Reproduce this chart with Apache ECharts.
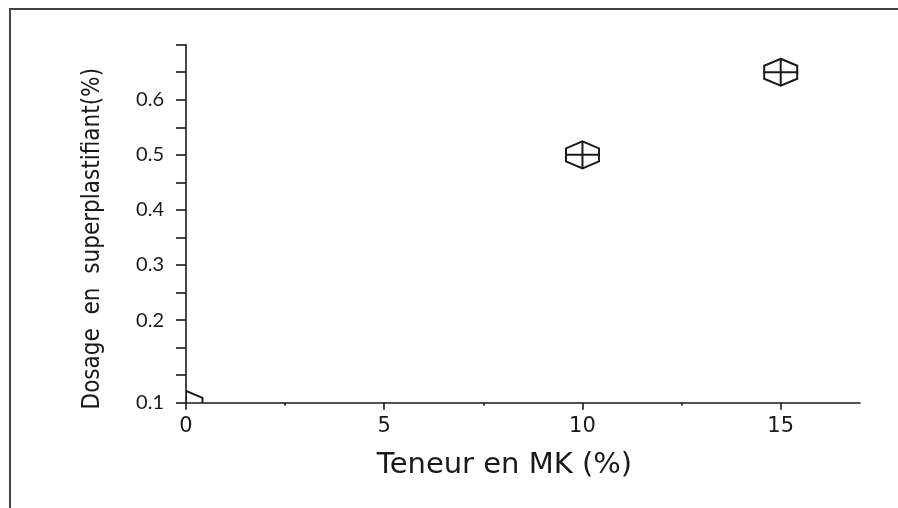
<!DOCTYPE html>
<html><head><meta charset="utf-8">
<script src="https://cdn.jsdelivr.net/npm/echarts@6/dist/echarts.min.js"></script>
<style>html,body{margin:0;padding:0;background:#fff}#c{width:898px;height:508px}</style>
</head><body><div id="c"></div>
<script>
// Data
const xValues = [0, 10, 15];
const yValues = [0.047, 0.5, 0.65];
const xLabelValues = [0, 5, 10, 15];
const xMinorTickValues = [2.5, 7.5, 12.5];
const yLabelValues = [0.05, 0.2, 0.3, 0.4, 0.5, 0.6];
const yLabelTexts = ['0.1', '0.2', '0.3', '0.4', '0.5', '0.6'];
const xTitle = 'Teneur en MK (%)';
const yTitle = 'Dosage  en  superplastifiant(%)';

const points = xValues.map((x, i) => [x, yValues[i]]);
const ink = '#1a1a1a';

function renderItem(params, api) {
  const p = api.coord([api.value(0), api.value(1)]);
  const hw = 16.5, hh = 13.5, s = 7, cw = 17.5;
  const pts = [
    [p[0], p[1] - hh], [p[0] + hw, p[1] - hh + s], [p[0] + hw, p[1] + hh - s],
    [p[0], p[1] + hh], [p[0] - hw, p[1] + hh - s], [p[0] - hw, p[1] - hh + s]
  ];
  const st = { stroke: ink, lineWidth: 2, fill: 'none' };
  return {
    type: 'group',
    children: [
      { type: 'polygon', shape: { points: pts }, style: st },
      { type: 'line', shape: { x1: p[0] - cw, y1: p[1], x2: p[0] + cw, y2: p[1] }, style: st },
      { type: 'line', shape: { x1: p[0], y1: p[1] - hh, x2: p[0], y2: p[1] + hh }, style: st }
    ]
  };
}

const chart = echarts.init(document.getElementById('c'), null, { renderer: 'canvas' });
chart.setOption({
  backgroundColor: '#fff',
  animation: false,
  grid: { left: 186, right: 38, top: 44.7, bottom: 105.3, containLabel: false },
  graphic: [{
    type: 'polyline',
    shape: { points: [[10, 508], [10, 9], [898, 9]] },
    style: { stroke: '#444', lineWidth: 2, fill: 'none' }
  }],
  xAxis: [{
    type: 'value', min: 0, max: 17, position: 'bottom',
    axisLine: { show: true, onZero: false, lineStyle: { color: ink, width: 1.6 } },
    axisTick: { show: true, customValues: xLabelValues, length: 7, lineStyle: { color: ink, width: 1.6 } },
    axisLabel: { customValues: xLabelValues, margin: 13, fontFamily: 'DejaVu Sans', fontSize: 21, color: ink },
    splitLine: { show: false },
    name: xTitle, nameLocation: 'middle', nameGap: 48,
    nameTextStyle: { fontFamily: 'DejaVu Sans', fontSize: 29, color: ink, padding: [0, 37, 0, 0] }
  }, {
    type: 'value', min: 0, max: 17, position: 'bottom',
    axisLine: { show: false, onZero: false },
    axisTick: { show: true, customValues: xMinorTickValues, length: 3, lineStyle: { color: ink, width: 1.6 } },
    axisLabel: { show: false },
    splitLine: { show: false }
  }],
  yAxis: {
    type: 'value', min: 0.05, max: 0.7, interval: 0.05,
    axisLine: { show: true, onZero: false, lineStyle: { color: ink, width: 1.6 } },
    axisTick: { show: true, length: 10, lineStyle: { color: ink, width: 1.6 } },
    axisLabel: {
      customValues: yLabelValues, margin: 22, fontFamily: 'Lato', fontSize: 20, color: ink,
      formatter: function (v) {
        for (let i = 0; i < yLabelValues.length; i++) {
          if (Math.abs(yLabelValues[i] - v) < 1e-6) return yLabelTexts[i];
        }
        return '';
      }
    },
    splitLine: { show: false },
    name: yTitle, nameLocation: 'middle', nameGap: 81,
    nameTextStyle: {
      fontFamily: "'Liberation Sans Narrow', 'DejaVu Sans Condensed', sans-serif",
      fontSize: 24, color: ink, padding: [0, 30, 0, 0]
    }
  },
  series: [{
    type: 'custom', xAxisIndex: 0, yAxisIndex: 0, clip: true,
    renderItem: renderItem, data: points, z: 3
  }]
});
</script>
</body></html>
